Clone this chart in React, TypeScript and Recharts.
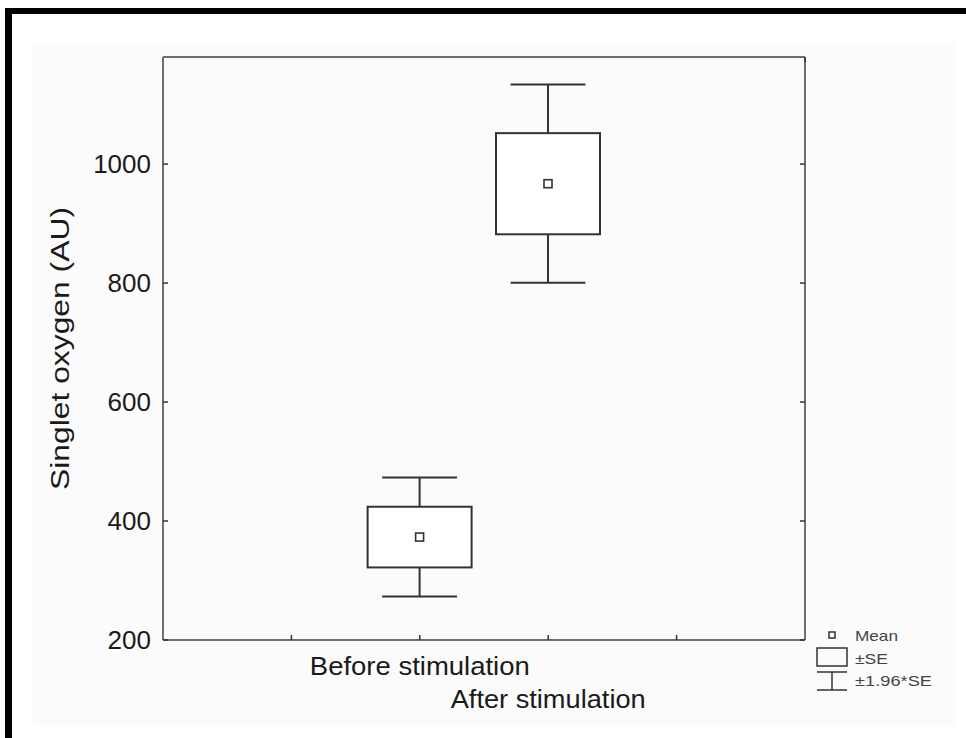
import { ComposedChart, Bar, XAxis, YAxis, Label } from 'recharts'

// groups (x positions on a 0..5 axis), means and standard errors
const groups = ['Before stimulation', 'After stimulation']
const groupPos = [2, 3]
const means = [373, 967]
const ses = [51, 85]
const yTicks = [200, 400, 600, 800, 1000]
const xTicks = [1, 2, 3, 4]
const yDomain = [200, 1180]
const xDomain = [0, 5]
const legendItems = ['Mean', '±SE', '±1.96*SE']

const data = groups.map((name, i) => ({
  name,
  pos: groupPos[i],
  mean: means[i],
  se: ses[i],
  range: [means[i] - 1.96 * ses[i], means[i] + 1.96 * ses[i]],
}))

const FONT = '"Liberation Sans", Arial, sans-serif'
const AXIS = '#6e6e6e'
const INK = '#333'
const TICK = 5

// box = mean ± SE, whiskers = mean ± 1.96*SE, small square = mean
function BoxShape(props: any) {
  const { x, y, width, height, payload } = props
  const [lo, hi] = payload.range
  const k = height / (hi - lo)
  const py = (v: number) => y + (hi - v) * k
  const cx = x + width / 2
  const top = py(payload.mean + payload.se)
  const bot = py(payload.mean - payload.se)
  const m = py(payload.mean)
  const cap = width * 0.36
  return (
    <g stroke={INK} strokeWidth={2} fill="none">
      <line x1={cx} x2={cx} y1={y} y2={top} />
      <line x1={cx} x2={cx} y1={bot} y2={y + height} />
      <line x1={cx - cap} x2={cx + cap} y1={y} y2={y} />
      <line x1={cx - cap} x2={cx + cap} y1={y + height} y2={y + height} />
      <rect x={x} y={top} width={width} height={bot - top} fill="#fff" />
      <rect x={cx - 4} y={m - 4} width={8} height={8} fill="#fff" strokeWidth={1.6} />
    </g>
  )
}

const labelStyle: Record<number, { dy: number; len: number }> = {
  2: { dy: 35, len: 220 },
  3: { dy: 68, len: 195 },
}

// ticks point into the plot, as in the original
function BottomTick(props: any) {
  const { x, y, payload } = props
  const idx = groupPos.indexOf(payload.value)
  const s = labelStyle[payload.value]
  return (
    <g>
      <line x1={x} x2={x} y1={y} y2={y - TICK} stroke={INK} strokeWidth={1.5} />
      {idx >= 0 && (
        <text
          x={x}
          y={y + s.dy}
          textAnchor="middle"
          fontFamily={FONT}
          fontSize={25}
          fill="#1a1a1a"
          textLength={s.len}
          lengthAdjust="spacingAndGlyphs"
        >
          {groups[idx]}
        </text>
      )}
    </g>
  )
}

function TopTick(props: any) {
  const { x, y } = props
  return <line x1={x} x2={x} y1={y} y2={y + TICK} stroke={INK} strokeWidth={1.5} />
}

function LeftTick(props: any) {
  const { x, y, payload } = props
  return (
    <g>
      <line x1={x} x2={x + TICK} y1={y} y2={y} stroke={INK} strokeWidth={1.5} />
      <text
        x={x - 12}
        y={y + 9}
        textAnchor="end"
        fontFamily={FONT}
        fontSize={26}
        fill="#1a1a1a"
      >
        {payload.value}
      </text>
    </g>
  )
}

function RightTick(props: any) {
  const { x, y } = props
  return <line x1={x} x2={x - TICK} y1={y} y2={y} stroke={INK} strokeWidth={1.5} />
}

function Legend() {
  return (
    <svg
      width={140}
      height={80}
      style={{ position: 'absolute', left: 810, top: 622 }}
      fontFamily={FONT}
    >
      <g stroke={INK} fill="none" strokeWidth={1.5}>
        <rect x={19} y={10} width={6} height={6} />
        <rect x={7} y={26} width={30} height={18} />
        <line x1={7} x2={37} y1={50} y2={50} />
        <line x1={22} x2={22} y1={50} y2={68} />
        <line x1={7} x2={37} y1={68} y2={68} />
      </g>
      <g fill="#444" fontSize={15}>
        <text x={45} y={19} textLength={43} lengthAdjust="spacingAndGlyphs">{legendItems[0]}</text>
        <text x={45} y={42} textLength={33} lengthAdjust="spacingAndGlyphs">{legendItems[1]}</text>
        <text x={45} y={64} textLength={77} lengthAdjust="spacingAndGlyphs">{legendItems[2]}</text>
      </g>
    </svg>
  )
}

export default function App() {
  return (
    <div style={{ position: 'absolute', left: 0, top: 0, width: 966, height: 738, background: '#fff' }}>
      {/* frame and grey panel */}
      <div style={{ position: 'absolute', left: 5, top: 8, width: 961, height: 6, background: '#000' }} />
      <div style={{ position: 'absolute', left: 5, top: 8, width: 7, height: 730, background: '#000' }} />
      <div style={{ position: 'absolute', left: 33, top: 43, width: 922, height: 683, background: '#fbfbfb' }} />

      <div style={{ position: 'absolute', left: 0, top: 0 }}>
        <ComposedChart
          width={966}
          height={738}
          data={data}
          margin={{ top: 56, right: 160, bottom: 38, left: 103 }}
        >
          <XAxis
            xAxisId="bottom"
            dataKey="pos"
            type="number"
            domain={xDomain}
            allowDataOverflow
            ticks={xTicks}
            interval={0}
            height={60}
            tickSize={0}
            tickMargin={0}
            axisLine={{ stroke: AXIS, strokeWidth: 2 }}
            tickLine={false}
            tick={<BottomTick />}
          />
          <XAxis
            xAxisId="top"
            orientation="top"
            type="number"
            domain={xDomain}
            allowDataOverflow
            ticks={xTicks}
            interval={0}
            height={1}
            tickSize={0}
            tickMargin={0}
            axisLine={{ stroke: AXIS, strokeWidth: 2 }}
            tickLine={false}
            tick={<TopTick />}
          />
          <YAxis
            yAxisId="left"
            type="number"
            domain={yDomain}
            allowDataOverflow
            ticks={yTicks}
            interval={0}
            width={60}
            tickSize={0}
            tickMargin={0}
            axisLine={{ stroke: AXIS, strokeWidth: 2 }}
            tickLine={false}
            tick={<LeftTick />}
          >
            <Label
              content={(p: any) => {
                const vb = p.viewBox
                const cx = vb.x - 34
                const cy = vb.y + vb.height / 2
                return (
                  <text
                    x={cx}
                    y={cy}
                    transform={`rotate(-90 ${cx} ${cy})`}
                    textAnchor="middle"
                    fontFamily={FONT}
                    fontSize={26}
                    fill="#1a1a1a"
                    textLength={283}
                    lengthAdjust="spacingAndGlyphs"
                  >
                    Singlet oxygen (AU)
                  </text>
                )
              }}
            />
          </YAxis>
          <YAxis
            yAxisId="right"
            orientation="right"
            type="number"
            domain={yDomain}
            allowDataOverflow
            ticks={yTicks}
            interval={0}
            width={1}
            tickSize={0}
            tickMargin={0}
            axisLine={{ stroke: AXIS, strokeWidth: 2 }}
            tickLine={false}
            tick={<RightTick />}
          />
          <Bar
            xAxisId="bottom"
            yAxisId="left"
            dataKey="range"
            barSize={104}
            shape={<BoxShape />}
            isAnimationActive={false}
          />
        </ComposedChart>
      </div>
      <Legend />
    </div>
  )
}
